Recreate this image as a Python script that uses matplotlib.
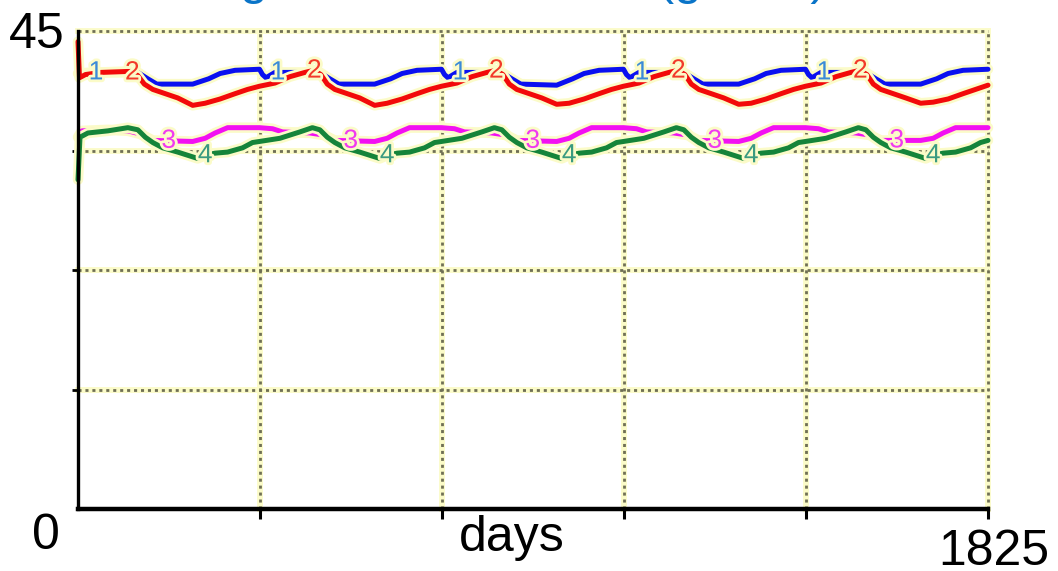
import numpy as np
import matplotlib
matplotlib.use("Agg")
import matplotlib.pyplot as plt
import matplotlib.patheffects as pe

plt.rcParams['font.family'] = ['Liberation Sans', 'DejaVu Sans']

# ---- data: simulated values over five years (days) ----
days_1 = [0, 30, 120, 140, 158, 230, 262, 285, 315, 364,
          370, 377, 395, 485, 505, 523, 595, 627, 650, 680, 729,
          735, 742, 760, 850, 870, 888, 960, 992, 1015, 1045, 1094,
          1100, 1107, 1125, 1215, 1235, 1253, 1325, 1357, 1380, 1410, 1459,
          1465, 1472, 1490, 1580, 1600, 1618, 1690, 1722, 1745, 1775, 1825]
vals_1 = [41.0, 41.1, 41.1, 40.5, 40.0, 40.0, 40.5, 41.0, 41.3, 41.4,
          40.9, 40.6, 41.1, 41.1, 40.5, 40.0, 40.0, 40.5, 41.0, 41.3, 41.4,
          40.9, 40.6, 41.1, 41.1, 40.5, 40.0, 39.9, 40.5, 41.0, 41.3, 41.4,
          40.9, 40.6, 41.1, 41.1, 40.5, 40.0, 40.0, 40.5, 41.0, 41.3, 41.4,
          40.9, 40.6, 41.1, 41.1, 40.5, 40.0, 40.0, 40.5, 41.0, 41.3, 41.4]

days_2 = [0, 3, 15, 45, 105, 120, 133, 150, 175, 200, 230, 255, 285, 315, 340, 364,
          395, 425, 455, 473, 487, 500, 515, 540, 565, 595, 620, 650, 680, 705, 729,
          760, 790, 820, 838, 852, 865, 880, 905, 930, 960, 985, 1015, 1045, 1070, 1094,
          1125, 1155, 1185, 1203, 1217, 1230, 1245, 1270, 1295, 1325, 1350, 1380, 1410, 1435, 1459,
          1490, 1520, 1550, 1568, 1582, 1595, 1610, 1635, 1660, 1690, 1715, 1745, 1775, 1800, 1825]
vals_2 = [44.0, 40.6, 40.9, 41.1, 41.2, 40.8, 40.0, 39.5, 39.1, 38.7, 38.0, 38.2, 38.6, 39.1, 39.5, 39.8,
          40.1, 40.7, 41.1, 41.3, 40.9, 40.0, 39.5, 39.1, 38.7, 38.0, 38.2, 38.6, 39.1, 39.5, 39.8,
          40.1, 40.7, 41.1, 41.3, 40.9, 40.0, 39.5, 39.1, 38.7, 38.1, 38.2, 38.6, 39.1, 39.5, 39.8,
          40.1, 40.7, 41.1, 41.3, 40.9, 40.0, 39.5, 39.1, 38.7, 38.1, 38.2, 38.6, 39.1, 39.5, 39.8,
          40.1, 40.7, 41.1, 41.3, 40.9, 40.0, 39.5, 39.1, 38.7, 38.2, 38.3, 38.6, 39.1, 39.5, 39.9]

days_3 = [0, 8, 60, 100, 125, 150, 230, 255, 275, 300, 364,
          390, 410, 465, 493, 515, 595, 620, 640, 665, 729,
          755, 775, 830, 858, 880, 960, 985, 1005, 1030, 1094,
          1120, 1140, 1195, 1223, 1245, 1325, 1350, 1370, 1395, 1459,
          1485, 1505, 1560, 1588, 1610, 1690, 1715, 1735, 1760, 1825]
vals_3 = [35.0, 35.6, 35.7, 35.6, 35.3, 34.7, 34.6, 34.9, 35.4, 35.9, 35.9,
          35.8, 35.5, 35.4, 35.2, 34.7, 34.6, 34.9, 35.4, 35.9, 35.9,
          35.8, 35.5, 35.4, 35.2, 34.7, 34.6, 34.9, 35.4, 35.9, 35.9,
          35.8, 35.5, 35.4, 35.2, 34.7, 34.6, 34.9, 35.4, 35.9, 35.9,
          35.8, 35.5, 35.4, 35.2, 34.7, 34.7, 34.9, 35.4, 35.9, 35.9]

days_4 = [0, 4, 20, 60, 100, 120, 135, 150, 170, 200, 240, 255, 275, 300, 330, 350, 364,
          405, 445, 470, 485, 500, 515, 535, 565, 605, 620, 640, 665, 695, 715, 729,
          770, 810, 835, 850, 865, 880, 900, 930, 970, 985, 1005, 1030, 1060, 1080, 1094,
          1135, 1175, 1200, 1215, 1230, 1245, 1265, 1295, 1335, 1350, 1370, 1395, 1425, 1445, 1459,
          1500, 1540, 1565, 1580, 1595, 1610, 1630, 1660, 1700, 1715, 1735, 1760, 1790, 1810, 1825]
vals_4 = [31.0, 35.0, 35.4, 35.6, 35.9, 35.7, 35.0, 34.5, 34.0, 33.6, 33.0, 33.3, 33.5, 33.6, 34.0, 34.5, 34.6,
          34.9, 35.5, 35.9, 35.7, 35.0, 34.5, 34.0, 33.6, 33.0, 33.3, 33.5, 33.6, 34.0, 34.5, 34.6,
          34.9, 35.5, 35.9, 35.7, 35.0, 34.5, 34.0, 33.6, 33.0, 33.3, 33.5, 33.6, 34.0, 34.5, 34.6,
          34.9, 35.5, 35.9, 35.7, 35.0, 34.5, 34.0, 33.6, 33.0, 33.3, 33.5, 33.6, 34.0, 34.5, 34.6,
          34.9, 35.5, 35.9, 35.7, 35.0, 34.5, 34.0, 33.6, 33.0, 33.3, 33.5, 33.6, 34.0, 34.5, 34.7]

series_names = ['1', '2', '3', '4']
x_max = 1825
y_max = 45
x_grid = [365, 730, 1095, 1460, 1825]
y_grid = [11.25, 22.5, 33.75, 45]
x_label = 'days'
title_text = 'Mean weight of stocked fish (g WW)'

# ---- styling ----
line_colors = ['#0a10f0', '#f20a0a', '#f210f2', '#15843a']
label_colors = ['#3a8ad8', '#f23a2a', '#f03af0', '#3a9a80']
halo = '#fbfbc8'
grid_dark = '#6f6f55'

W, H = 1058, 571
fig = plt.figure(figsize=(W / 100, H / 100), dpi=100)
ax = fig.add_axes([78 / W, 62 / H, 910 / W, 478 / H])
ax.set_xlim(0, x_max)
ax.set_ylim(0, y_max)

# dotted grid with a pale halo
for xv in x_grid:
    ax.axvline(xv, color=halo, lw=4.2, zorder=1, clip_on=False)
    ax.axvline(xv, color=grid_dark, lw=2.0, ls=(0, (1.1, 1.4)), zorder=1.1, clip_on=False)
for yv in y_grid:
    ax.axhline(yv, color=halo, lw=4.2, zorder=1, clip_on=False)
    ax.axhline(yv, color=grid_dark, lw=2.0, ls=(0, (1.1, 1.4)), zorder=1.1, clip_on=False)

all_days = [days_1, days_2, days_3, days_4]
all_vals = [vals_1, vals_2, vals_3, vals_4]
for i, (d, v) in enumerate(zip(all_days, all_vals)):
    ax.plot(d, v, color=line_colors[i], lw=3.6, solid_joinstyle='round',
            solid_capstyle='round', zorder=3 + i, clip_on=False,
            path_effects=[pe.Stroke(linewidth=7.5, foreground=halo), pe.Normal()])

# numbered series labels along each curve
for i, (d, v) in enumerate(zip(all_days, all_vals)):
    for yr in range(5):
        xd = 36 + 73 * i + 365 * yr
        yd = np.interp(xd, d, v)
        ax.text(xd, yd, series_names[i], color=label_colors[i], fontsize=19,
                ha='center', va='center', zorder=10,
                path_effects=[pe.Stroke(linewidth=4, foreground=halo), pe.Normal()])

# axes frame
for s in ['top', 'right']:
    ax.spines[s].set_visible(False)
ax.spines['left'].set_linewidth(2.4)
ax.spines['bottom'].set_linewidth(3.2)
ax.spines['left'].set_zorder(12)
ax.spines['bottom'].set_zorder(12)
ax.set_xticks(x_grid)
ax.set_yticks(y_grid[:-1])
ax.tick_params(axis='x', length=7, width=2.2, direction='out', labelbottom=False)
ax.tick_params(axis='y', length=4, width=2, direction='out', labelleft=False)

# axis end labels
fs = 36
fig.text(65 / W, 1 - 48 / H, str(y_max), fontsize=fs, ha='right', va='baseline')
fig.text(46 / W, 1 - 549 / H, '0', fontsize=fs, ha='center', va='baseline')
fig.text(512 / W, 1 - 551 / H, x_label, fontsize=fs, ha='center', va='baseline')
fig.text(1049 / W, 1 - 565 / H, str(x_max), fontsize=fs, ha='right', va='baseline')

# title sits above the top edge
fig.text(426 / W, 1 + 5.5 / H, title_text, fontsize=fs, color='#0a74c8',
         ha='center', va='baseline')

fig.savefig('out.png', dpi=100)
